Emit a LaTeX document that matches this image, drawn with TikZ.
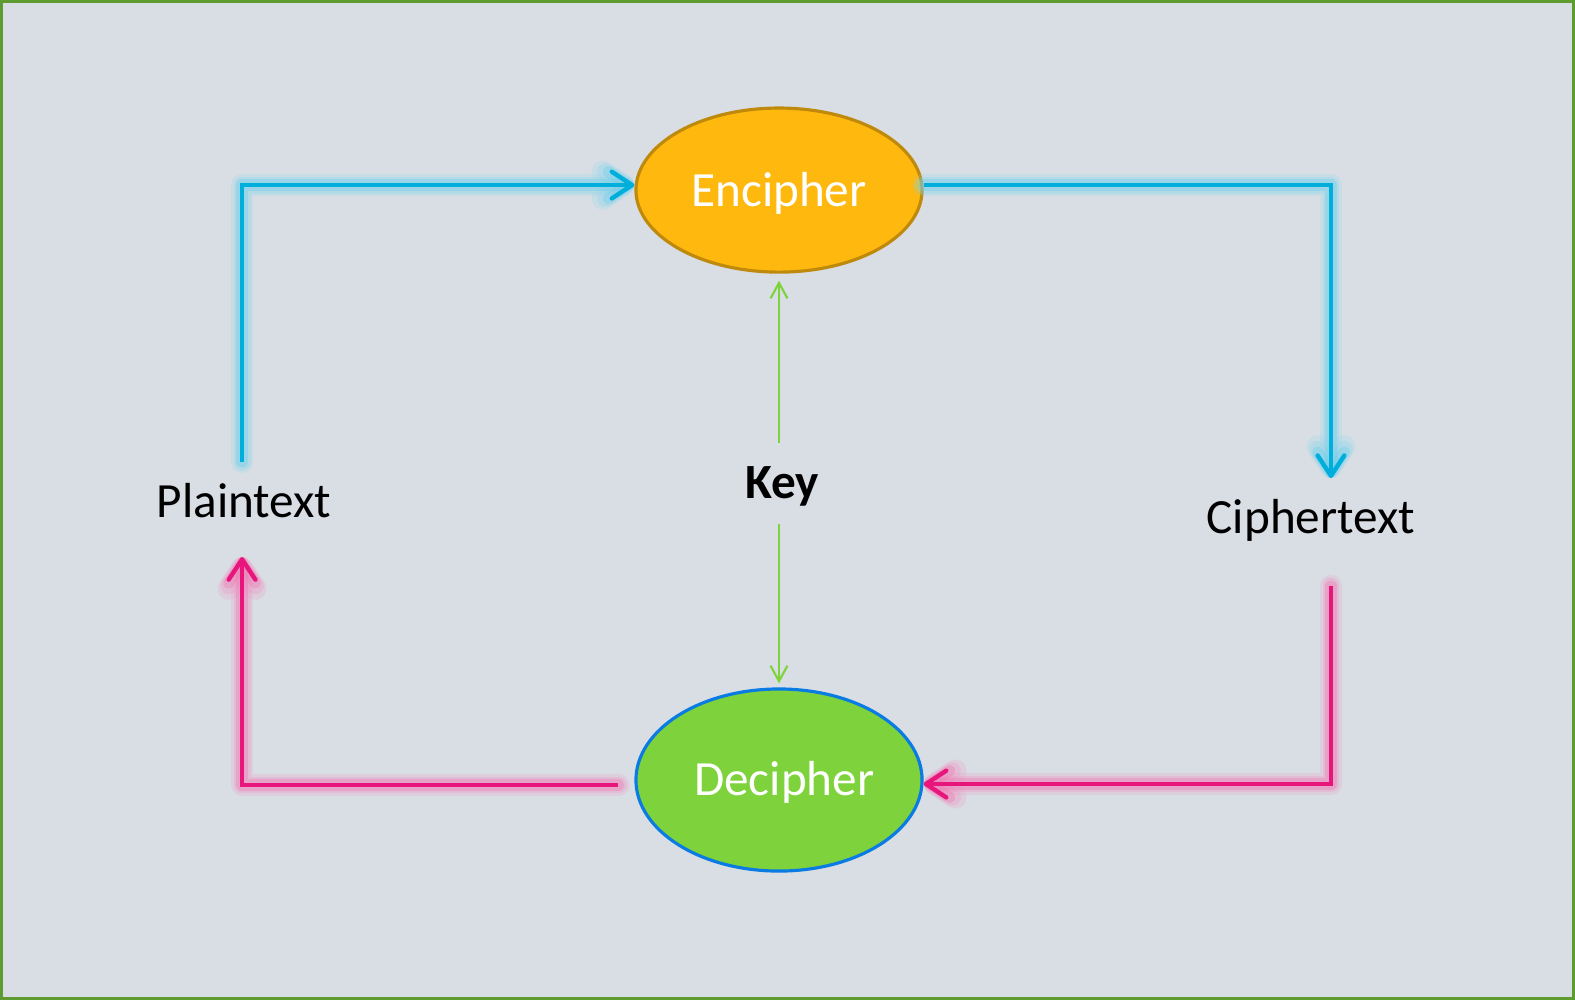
\documentclass[tikz,border=0pt]{standalone}
\usepackage{fontspec}
\setmainfont{Carlito}
\usetikzlibrary{arrows.meta,calc,shapes.geometric}

\definecolor{bgpanel}{HTML}{D9DEE5}
\definecolor{framegreen}{HTML}{5E9B30}
\definecolor{encfill}{HTML}{FFB80E}
\definecolor{encline}{HTML}{BF8A0C}
\definecolor{decfill}{HTML}{7ED23B}
\definecolor{decline}{HTML}{0A7BE3}
\definecolor{flowblue}{HTML}{00AEDC}
\definecolor{flowpink}{HTML}{E8157D}
\definecolor{keygreen}{HTML}{7ED23B}

\newcommand{\lowered}[1]{\raisebox{-0.8pt}[\height][\depth]{#1}}

\tikzset{
  x=0.01cm, y=-0.01cm,
  label text/.style={font=\fontsize{14}{16}\selectfont, text=black, inner sep=2pt},
  cipherbox/.style={ellipse, inner sep=0pt, line width=0.9pt,
    minimum width=2.86cm, font=\fontsize{14}{16}\selectfont, text=white},
  bluetip/.style={-{Straight Barb[length=5.8pt,width=7.6pt,round]}},
  glowflow/.style={line width=1.25pt, miter limit=2, draw=#1,
    preaction={draw=#1!50!white, line width=6.4pt, draw opacity=0.18, line join=round, line cap=round},
    preaction={draw=#1!50!white, line width=4.8pt, draw opacity=0.25, line join=round, line cap=round},
    preaction={draw=#1!60!white, line width=3.2pt, draw opacity=0.35, line join=round, line cap=round}},
  keyflow/.style={draw=keygreen, line width=0.6pt,
    -{Straight Barb[length=4.4pt,width=4.8pt]}},
}

\begin{document}
\begin{tikzpicture}
  % panel and frame
  \fill[bgpanel] (0,0) rectangle (1575,1000);
  \draw[framegreen, line width=0.9pt] (1.5,1.5) rectangle (1573.5,998.5);
  \useasboundingbox (0,0) rectangle (1575,1000);

  % the two cipher stages
  \node[cipherbox, fill=encfill, draw=encline, minimum height=1.64cm]
    (enc) at (779,190) {\lowered{Encipher}};
  \node[cipherbox, fill=decfill, draw=decline, minimum height=1.82cm]
    (dec) at (779,780) {\makebox[0pt]{\hspace{3pt}\lowered{Decipher}}};

  % texts
  \node[label text] (plain) at (244,501) {Plaintext};
  \node[label text] (cipher) at (1311,520) {Ciphertext};
  \node[label text, font=\fontsize{14}{16}\selectfont\bfseries] (key) at (782,486) {Key};

  % loose ends of the flows
  \coordinate (ptup) at (242,462);
  \coordinate (ptdown) at (242,557);
  \coordinate (ctdown) at (1331,478);
  \coordinate (ctup) at (1331,586);
  \coordinate (keytop) at (779,443);
  \coordinate (keybot) at (779,524);

  % encipher flow
  \draw[glowflow=flowblue, bluetip] (ptup) |- ($(enc.west)+(0,-5)$);
  \draw[glowflow=flowblue, bluetip] ($(enc.east)+(0,-5)$) -| (ctdown);

  % decipher flow
  \draw[glowflow=flowpink, bluetip] (ctup) |- ($(dec.east)+(0,4)$);
  \draw[glowflow=flowpink, bluetip] ($(dec.west)+(-16,5)$) -| (ptdown);

  % key feeds both stages
  \draw[keyflow] (keytop) -- ($(enc.south)+(0,7)$);
  \draw[keyflow] (keybot) -- ($(dec.north)+(0,-4)$);
\end{tikzpicture}
\end{document}
